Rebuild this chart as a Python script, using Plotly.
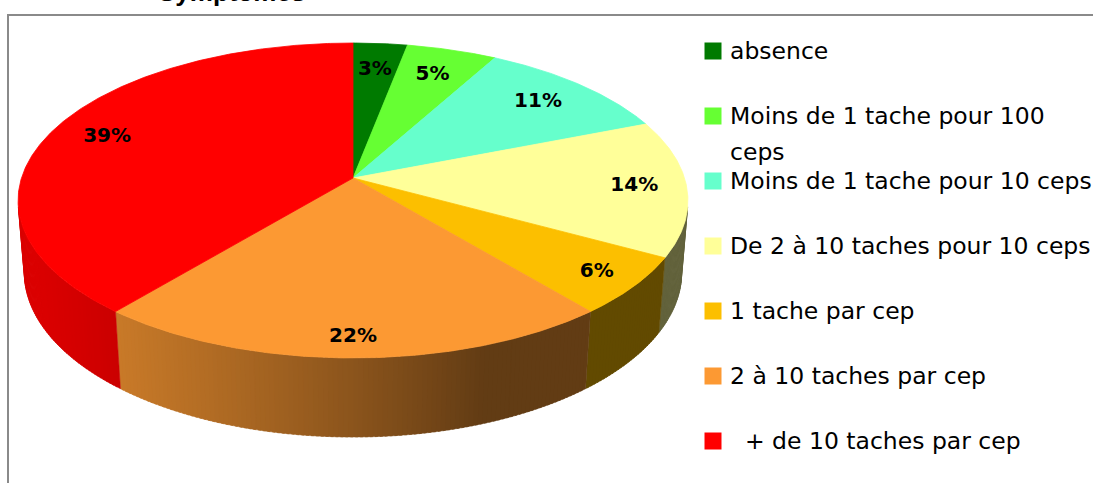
import math
import textwrap
import plotly.graph_objects as go

# ---------------- data ----------------
title_text = "Symptomes"
categories = [
    "absence",
    "Moins de 1 tache pour 100 ceps",
    "Moins de 1 tache pour 10 ceps",
    "De 2 à 10 taches pour 10 ceps",
    "1 tache par cep",
    "2 à 10 taches par cep",
    "  + de 10 taches par cep",
]
values = [3, 5, 11, 14, 6, 22, 39]

# ---------------- style ----------------
top_colors = ["#007A00", "#66FF33", "#66FFCC", "#FFFF99", "#FCBF00", "#FC9933", "#FF0000"]

WIN_W, WIN_H = 1093, 483
# 3D-perspective pie projection (window pixels)
CX, CY = 353.0, 178.0        # projected centre of the pie top
ELEV = math.radians(27.73)   # viewing elevation
SE, CE = math.sin(ELEV), math.cos(ELEV)
DIST = 6.196                 # camera distance (in pie radii)
FOCAL = 2054.0               # focal length in pixels
THICK = 0.2473               # pie thickness (in pie radii)


def proj(X, Y, Z):
    yc = Y * SE + Z * CE
    zc = Y * CE - Z * SE + DIST
    return CX + FOCAL * X / zc, CY - FOCAL * yc / zc


def rim(theta_deg, z=0.0, r=1.0):
    t = math.radians(theta_deg)
    return proj(r * math.sin(t), r * math.cos(t), z)


def shade(theta_deg):
    return 0.39 + 0.47 * max(0.0, math.cos(math.radians(theta_deg - 250.0)))


def hex_rgb(h):
    h = h.lstrip("#")
    return tuple(int(h[i:i + 2], 16) for i in (0, 2, 4))


def arc(a0, a1, z=0.0, step=0.5):
    n = max(2, int(abs(a1 - a0) / step) + 1)
    return [rim(a0 + (a1 - a0) * i / (n - 1), z) for i in range(n)]


fig = go.Figure()

total = float(sum(values))
bounds = [0.0]
for v in values:
    bounds.append(bounds[-1] + 360.0 * v / total)

# visible side wall range (where side normal faces the camera)
vis = math.degrees(math.acos(-1.0 / (DIST * CE)))
vis0, vis1 = vis, 360.0 - vis

# ---- side walls (drawn first) ----
STRIP = 0.75
for i, v in enumerate(values):
    a0, a1 = max(bounds[i], vis0), min(bounds[i + 1], vis1)
    if a1 <= a0:
        continue
    base = hex_rgb(top_colors[i])
    n = max(1, int(math.ceil((a1 - a0) / STRIP)))
    for j in range(n):
        t0 = a0 + (a1 - a0) * j / n
        t1 = min(a1, a0 + (a1 - a0) * (j + 1) / n + 0.4)
        k = shade(a0 + (a1 - a0) * (j + 0.5) / n)
        col = "rgb(%d,%d,%d)" % tuple(int(round(c * k)) for c in base)
        pts = arc(t0, t1, 0.0, 0.25) + arc(t1, t0, -THICK, 0.25)
        xs = [p[0] for p in pts] + [pts[0][0]]
        ys = [p[1] for p in pts] + [pts[0][1]]
        fig.add_trace(go.Scatter(x=xs, y=ys, mode="lines", fill="toself",
                                 fillcolor=col, line=dict(color=col, width=0.5),
                                 hoverinfo="skip", showlegend=False))

# ---- top slices ----
apex = proj(0, 0, 0)
for i, v in enumerate(values):
    pts = [apex] + arc(bounds[i], bounds[i + 1]) + [apex]
    fig.add_trace(go.Scatter(x=[p[0] for p in pts], y=[p[1] for p in pts],
                             mode="lines", fill="toself", fillcolor=top_colors[i],
                             line=dict(color=top_colors[i], width=0.8),
                             hoverinfo="skip", showlegend=False, name=categories[i].strip()))

# ---- percentage labels ----
lx, ly, lt = [], [], []
for i, v in enumerate(values):
    mid = (bounds[i] + bounds[i + 1]) / 2
    r = 0.84 - 0.06 * math.cos(math.radians(mid))
    x, y = rim(mid, 0.0, r)
    lx.append(x)
    ly.append(y)
    lt.append(f"{v}%")
fig.add_trace(go.Scatter(x=lx, y=ly, mode="text", text=lt,
                         textfont=dict(family="Comic Sans MS, DejaVu Sans", size=20,
                                       color="black", weight="bold"),
                         hoverinfo="skip", showlegend=False))

# ---- legend (manual, Excel-like) ----
LEG_MARK_X, LEG_Y0, LEG_PITCH, LEG_SQ = 713.0, 51.0, 65.0, 17.0
LEG_TEXT_X, LEG_LINE = 728.0, 36.0
shapes = []
annotations = []
for i, cat in enumerate(categories):
    yc = LEG_Y0 + LEG_PITCH * i
    shapes.append(dict(type="rect", xref="x", yref="y",
                       x0=LEG_MARK_X - LEG_SQ / 2, x1=LEG_MARK_X + LEG_SQ / 2,
                       y0=yc - LEG_SQ / 2, y1=yc + LEG_SQ / 2,
                       fillcolor=top_colors[i], line=dict(width=0)))
    lead = len(cat) - len(cat.lstrip(" "))
    lines = textwrap.wrap(cat.strip(), 29)
    for j, line in enumerate(lines):
        txt = ("\u00a0" * lead + line) if j == 0 else line
        annotations.append(dict(x=LEG_TEXT_X, y=yc + j * LEG_LINE, xref="x", yref="y",
                                text=txt, showarrow=False, xanchor="left", yanchor="middle",
                                font=dict(family="Comic Sans MS, DejaVu Sans", size=23.5,
                                          color="black")))

# chart frame (cut by the picture edges)
shapes.append(dict(type="rect", xref="x", yref="y", x0=8, y0=15, x1=1110, y1=500,
                   line=dict(color="#8a8a8a", width=2), fillcolor="rgba(0,0,0,0)",
                   layer="below"))

# title (mostly cut off at the top)
annotations.append(dict(x=231, y=9, xref="x", yref="y", text="<b>%s</b>" % title_text,
                        showarrow=False, xanchor="center", yanchor="bottom",
                        font=dict(family="Liberation Sans, Arial", size=26, color="black")))

fig.update_layout(
    width=WIN_W, height=WIN_H, autosize=False,
    margin=dict(l=0, r=0, t=0, b=0, pad=0),
    paper_bgcolor="white", plot_bgcolor="white",
    xaxis=dict(range=[0, WIN_W], visible=False, fixedrange=True),
    yaxis=dict(range=[WIN_H, 0], visible=False, fixedrange=True),
    shapes=shapes, annotations=annotations,
    showlegend=False, hovermode=False,
)

# place the chart flush with the window corner (no default page margin)
fig.write_html("out.html",
               config={"displayModeBar": False, "staticPlot": True},
               post_script="document.body.style.margin='0';"
                           "document.body.style.overflow='hidden';")
